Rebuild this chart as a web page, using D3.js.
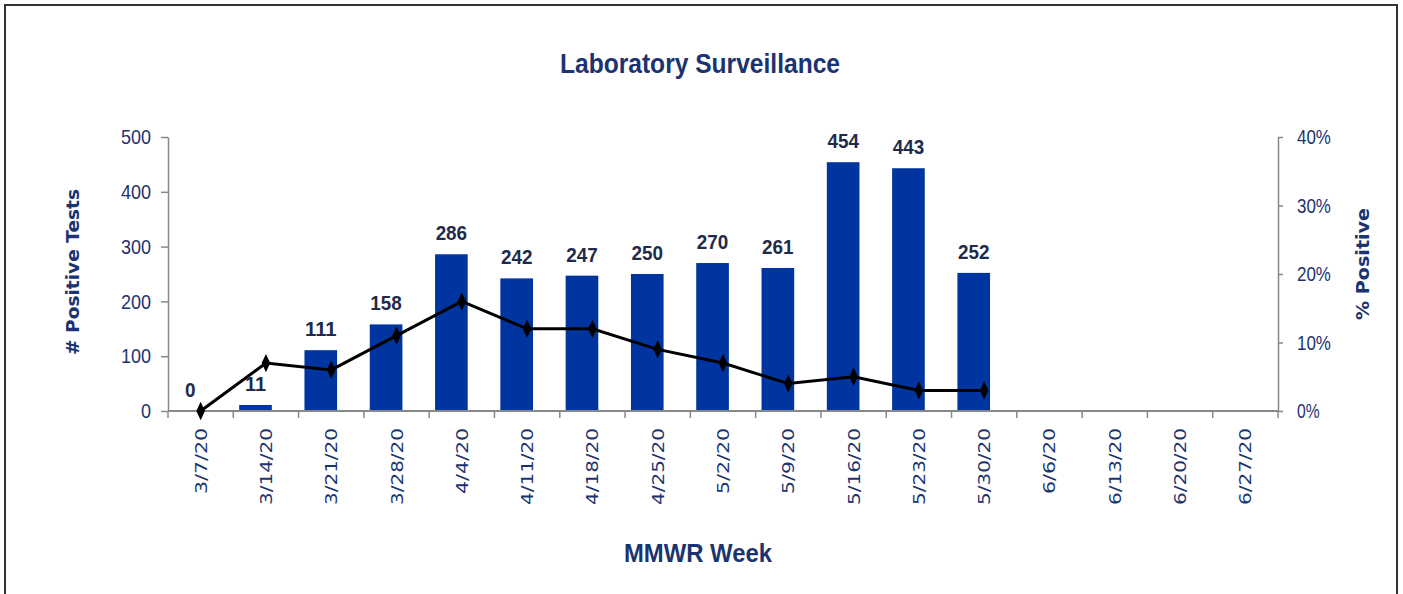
<!DOCTYPE html>
<html><head><meta charset="utf-8">
<script src="https://cdn.jsdelivr.net/npm/d3@7"></script>
<style>body{margin:0;background:#fff}svg{display:block}</style>
</head><body>
<svg id="c" width="1403" height="594"></svg>
<script>
const weeks = ["3/7/20","3/14/20","3/21/20","3/28/20","4/4/20","4/11/20","4/18/20","4/25/20","5/2/20","5/9/20","5/16/20","5/23/20","5/30/20","6/6/20","6/13/20","6/20/20","6/27/20"];
const positiveTests = [0,11,111,158,286,242,247,250,270,261,454,443,252];
const pctPositive = [0,7,6,11,16,12,12,9,7,4,5,3,3];
const leftTicks = [0,100,200,300,400,500];
const rightTicks = [0,10,20,30,40];

const svg = d3.select("#c");
const navy = "#1B3370";
const narrow = "Liberation Sans Narrow, Arial Narrow, Liberation Sans, sans-serif";
const m = {l:168, r:1278, t:137, b:411};

svg.append("rect").attr("x",5).attr("y",5).attr("width",1392).attr("height",600)
  .attr("fill","#fff").attr("stroke","#333").attr("stroke-width",2);

const xb = d3.scaleBand().domain(weeks).range([m.l,m.r]);
const y = d3.scaleLinear().domain([0,500]).range([m.b,m.t]);
const y2 = d3.scaleLinear().domain([0,40]).range([m.b,m.t]);
const bw = xb.bandwidth()*0.5;
const barX = d => xb(d) + xb.bandwidth()*0.09;
const cx = d => xb(d) + xb.bandwidth()/2;

// title
svg.append("text").attr("x",700).attr("y",73).attr("text-anchor","middle")
  .attr("font-family",narrow).attr("font-weight","bold").attr("font-size",28).attr("fill",navy)
  .attr("textLength",280).attr("lengthAdjust","spacingAndGlyphs")
  .text("Laboratory Surveillance");

// left axis
const gl = svg.append("g").attr("transform",`translate(${m.l},0)`)
  .call(d3.axisLeft(y).tickValues(leftTicks).tickSize(7).tickPadding(10).tickSizeOuter(0));
gl.select(".domain").attr("stroke","#888").attr("stroke-width",1.5);
gl.selectAll(".tick line").attr("stroke","#888").attr("stroke-width",1.5);
gl.selectAll("text").attr("font-family",narrow).attr("font-size",21).attr("fill",navy)
  .attr("textLength",function(){return this.textContent.length*10;}).attr("lengthAdjust","spacingAndGlyphs");

// right axis
const gr = svg.append("g").attr("transform",`translate(${m.r},0)`)
  .call(d3.axisRight(y2).tickValues(rightTicks).tickSize(5).tickPadding(14).tickSizeOuter(0).tickFormat(d=>d+"%"));
gr.select(".domain").attr("stroke","#888").attr("stroke-width",1.5);
gr.selectAll(".tick line").attr("stroke","#888").attr("stroke-width",1.5);
gr.selectAll("text").attr("font-family",narrow).attr("font-size",21).attr("fill",navy)
  .attr("textLength",function(){return this.textContent.length*11.3;}).attr("lengthAdjust","spacingAndGlyphs");

// bars
svg.append("g").selectAll("rect").data(positiveTests).join("rect")
  .attr("x",(d,i)=>barX(weeks[i])).attr("width",bw)
  .attr("y",d=>y(d)).attr("height",d=>y(0)-y(d)).attr("fill","#0035A0");

// x axis
const gx = svg.append("g").attr("transform",`translate(0,${m.b})`);
gx.append("line").attr("x1",m.l).attr("x2",m.r).attr("stroke","#888").attr("stroke-width",2);
gx.selectAll("line.t").data(weeks.concat(["end"])).join("line").attr("class","t")
  .attr("x1",(d,i)=>m.l+i*xb.bandwidth()).attr("x2",(d,i)=>m.l+i*xb.bandwidth())
  .attr("y1",0).attr("y2",7).attr("stroke","#888").attr("stroke-width",1.5);
gx.selectAll("text").data(weeks).join("text")
  .attr("transform",d=>`translate(${cx(d)+6},17) rotate(-90)`)
  .attr("text-anchor","end").attr("font-family","DejaVu Sans, Verdana, sans-serif")
  .attr("font-size",16).attr("fill",navy)
  .attr("textLength",d=>d.length*11).attr("lengthAdjust","spacingAndGlyphs")
  .text(d=>d);

// data labels
svg.append("g").selectAll("text").data(positiveTests).join("text")
  .attr("x",(d,i)=>barX(weeks[i])+bw/2).attr("y",d=>y(d)-14)
  .attr("text-anchor","middle").attr("font-family",narrow)
  .attr("font-weight","bold").attr("font-size",21).attr("fill","#1E2B4A")
  .attr("textLength",d=>String(d).length*10.5).attr("lengthAdjust","spacingAndGlyphs")
  .text(d=>d);

// line
const line = d3.line().x((d,i)=>cx(weeks[i])).y(d=>y2(d));
svg.append("path").datum(pctPositive).attr("d",line).attr("fill","none")
  .attr("stroke","#000").attr("stroke-width",3);
svg.append("g").selectAll("path").data(pctPositive).join("path")
  .attr("d",d3.symbol().type(d3.symbolDiamond).size(80))
  .attr("transform",(d,i)=>`translate(${cx(weeks[i])},${y2(d)}) scale(0.9,1.1)`)
  .attr("fill","#000");

// axis titles
svg.append("text").attr("transform","translate(79,272) rotate(-90)").attr("text-anchor","middle")
  .attr("font-family","DejaVu Sans, Verdana, sans-serif").attr("font-weight","bold")
  .attr("font-size",17).attr("fill",navy)
  .attr("textLength",166).attr("lengthAdjust","spacingAndGlyphs").text("# Positive Tests");
svg.append("text").attr("transform","translate(1369,264) rotate(-90)").attr("text-anchor","middle")
  .attr("font-family","DejaVu Sans, Verdana, sans-serif").attr("font-weight","bold")
  .attr("font-size",17).attr("fill",navy)
  .attr("textLength",112).attr("lengthAdjust","spacingAndGlyphs").text("% Positive");
svg.append("text").attr("x",698).attr("y",562).attr("text-anchor","middle")
  .attr("font-family",narrow).attr("font-weight","bold").attr("font-size",26).attr("fill",navy)
  .attr("textLength",148).attr("lengthAdjust","spacingAndGlyphs")
  .text("MMWR Week");
</script>
</body></html>
